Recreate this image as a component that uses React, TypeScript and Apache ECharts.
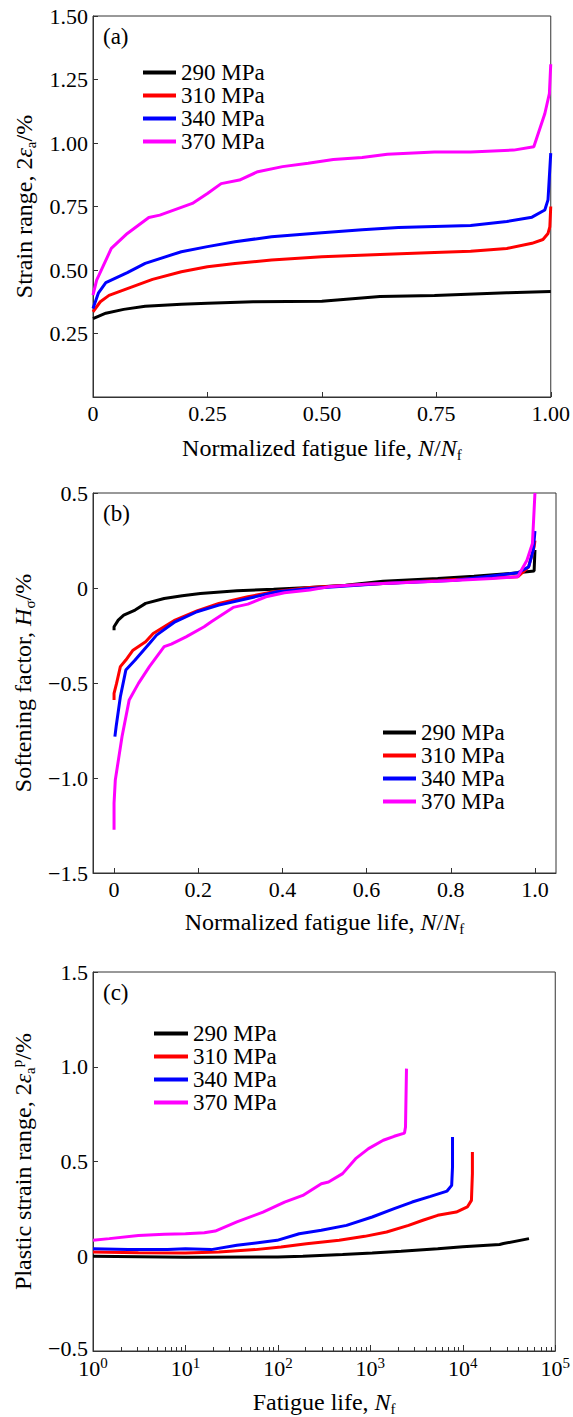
import React, { useEffect, useRef } from "react";
import * as echarts from "echarts";

const FONT = "Liberation Serif";
const seriesNames = ["290 MPa", "310 MPa", "340 MPa", "370 MPa"];
const seriesColors = ["#000000", "#ff0000", "#0000ff", "#ff00ff"];

// Panel (a): strain range vs normalized fatigue life
const a290 = [[0, 0.309], [0.028, 0.33], [0.067, 0.345], [0.114, 0.357], [0.193, 0.365], [0.25, 0.369], [0.35, 0.375], [0.5, 0.377], [0.54, 0.383], [0.627, 0.396], [0.746, 0.4], [0.904, 0.41], [1.0, 0.415]];
const a310 = [[0, 0.335], [0.016, 0.375], [0.035, 0.4], [0.075, 0.427], [0.13, 0.463], [0.193, 0.493], [0.25, 0.513], [0.31, 0.526], [0.39, 0.539], [0.5, 0.552], [0.627, 0.561], [0.746, 0.569], [0.825, 0.574], [0.904, 0.585], [0.959, 0.605], [0.983, 0.62], [0.994, 0.644], [0.998, 0.67], [1.0, 0.75]];
const a340 = [[0, 0.348], [0.012, 0.41], [0.028, 0.45], [0.075, 0.49], [0.114, 0.526], [0.193, 0.572], [0.25, 0.592], [0.31, 0.611], [0.39, 0.631], [0.5, 0.647], [0.588, 0.658], [0.667, 0.667], [0.825, 0.675], [0.904, 0.691], [0.959, 0.708], [0.987, 0.736], [0.994, 0.776], [1.0, 0.96]];
const a370 = [[0, 0.401], [0.008, 0.46], [0.04, 0.585], [0.075, 0.644], [0.122, 0.707], [0.146, 0.716], [0.217, 0.762], [0.25, 0.801], [0.28, 0.84], [0.32, 0.854], [0.36, 0.887], [0.414, 0.907], [0.47, 0.92], [0.525, 0.935], [0.588, 0.943], [0.643, 0.956], [0.746, 0.965], [0.825, 0.965], [0.919, 0.972], [0.963, 0.985], [0.987, 1.115], [0.997, 1.195], [1.0, 1.31]];

// Panel (b): softening factor vs normalized fatigue life
const b290 = [[0, -0.222], [0, -0.204], [0.01, -0.169], [0.023, -0.143], [0.05, -0.116], [0.075, -0.081], [0.119, -0.055], [0.162, -0.041], [0.205, -0.029], [0.292, -0.015], [0.379, -0.006], [0.465, 0.003], [0.55, 0.015], [0.639, 0.035], [0.769, 0.05], [0.855, 0.062], [0.942, 0.076], [0.998, 0.09], [1.0, 0.2]];
const b310 = [[0, -0.589], [0, -0.554], [0.006, -0.502], [0.015, -0.414], [0.028, -0.379], [0.045, -0.327], [0.075, -0.283], [0.093, -0.239], [0.119, -0.204], [0.145, -0.169], [0.197, -0.12], [0.249, -0.081], [0.318, -0.046], [0.379, -0.02], [0.465, 0.003], [0.639, 0.024], [0.812, 0.045], [0.959, 0.059], [0.985, 0.111], [0.998, 0.216], [1.0, 0.25]];
const b340 = [[0.002, -0.782], [0.005, -0.729], [0.015, -0.572], [0.028, -0.432], [0.05, -0.379], [0.084, -0.292], [0.101, -0.248], [0.145, -0.178], [0.197, -0.125], [0.249, -0.09], [0.318, -0.055], [0.387, -0.02], [0.465, -0.003], [0.639, 0.024], [0.812, 0.041], [0.959, 0.08], [0.985, 0.111], [0.996, 0.199], [1.0, 0.3]];
const b370 = [[0, -1.272], [0, -1.132], [0.003, -1.01], [0.019, -0.782], [0.036, -0.589], [0.058, -0.502], [0.084, -0.414], [0.119, -0.309], [0.136, -0.295], [0.171, -0.257], [0.214, -0.204], [0.231, -0.178], [0.283, -0.102], [0.318, -0.085], [0.361, -0.046], [0.405, -0.025], [0.465, -0.011], [0.509, 0.006], [0.595, 0.02], [0.769, 0.036], [0.899, 0.05], [0.959, 0.059], [0.981, 0.146], [0.994, 0.234], [1.0, 0.5]];

// Panel (c): plastic strain range vs fatigue life (cycles)
const c290 = [[1, 0], [10, -0.005], [100, -0.004], [186, 0.0], [501, 0.009], [1047, 0.017], [2150, 0.026], [5360, 0.039], [10000, 0.05], [25000, 0.062], [27500, 0.067], [52000, 0.093]];
const c310 = [[1, 0.022], [3.1, 0.019], [10, 0.017], [23, 0.022], [57, 0.035], [108, 0.049], [204, 0.066], [460, 0.084], [870, 0.105], [1500, 0.128], [2590, 0.163], [3700, 0.19], [5350, 0.216], [8500, 0.233], [11200, 0.26], [12400, 0.295], [12700, 0.436], [12700, 0.55]];
const c340 = [[1, 0.04], [2.4, 0.035], [6.4, 0.035], [10, 0.04], [19, 0.035], [36, 0.058], [98, 0.084], [170, 0.119], [295, 0.137], [552, 0.163], [1047, 0.207], [1810, 0.251], [2830, 0.286], [4470, 0.316], [6760, 0.344], [7580, 0.374], [7740, 0.471], [7740, 0.629]];
const c370 = [[1, 0.084], [1.5, 0.093], [3.1, 0.11], [5.9, 0.116], [10, 0.119], [16, 0.124], [21, 0.133], [36, 0.181], [69, 0.233], [118, 0.286], [186, 0.321], [295, 0.383], [353, 0.392], [501, 0.436], [693, 0.515], [955, 0.568], [1380, 0.612], [1810, 0.633], [2340, 0.65], [2400, 0.682], [2460, 0.99]];

const bTicks = [0, 0.2, 0.4, 0.6, 0.8, 1.0];
const cMinorTicks: number[] = [];
[1, 10, 100, 1000, 10000].forEach((d) => {
  for (let k = 2; k <= 9; k++) cMinorTicks.push(d * k);
});

const panels = [
  [a290, a310, a340, a370],
  [b290, b310, b340, b370],
  [c290, c310, c340, c370],
];

const AXIS_COLOR = "#333";
const txt = { fontFamily: FONT, color: "#000" };
const nameRich = {
  n: { ...txt, fontSize: 24, lineHeight: 28 },
  i: { ...txt, fontSize: 24, lineHeight: 28, fontStyle: "italic" },
  s: { ...txt, fontSize: 15, lineHeight: 15, verticalAlign: "bottom" },
  p: { ...txt, fontSize: 15, lineHeight: 15, verticalAlign: "top" },
};

const minus = (v: number, d: number) =>
  v === 0 ? "0" : v < 0 ? "\u2212" + Math.abs(v).toFixed(d) : v.toFixed(d);

function baseAxis(extra: any) {
  return {
    axisLine: { show: true, onZero: false, lineStyle: { color: AXIS_COLOR, width: 1 } },
    axisTick: { show: true, inside: true, length: 5, lineStyle: { color: AXIS_COLOR } },
    splitLine: { show: false },
    nameLocation: "middle",
    nameTextStyle: { rich: nameRich, ...txt, fontSize: 24 },
    ...extra,
  };
}

export default function App() {
  const ref = useRef<HTMLDivElement>(null);
  useEffect(() => {
    if (!ref.current) return;
    const chart = echarts.init(ref.current, undefined, { renderer: "svg" });
    const labelStyle = { ...txt, fontSize: 22, margin: 5 };
    const grids = [
      { left: 93, top: 16, width: 463, height: 381 },
      { left: 93, top: 493, width: 463, height: 380 },
      { left: 93, top: 972, width: 463, height: 379 },
    ].map((g) => ({ ...g, show: true, borderColor: AXIS_COLOR, borderWidth: 1, backgroundColor: "transparent" }));

    const xAxis = [
      baseAxis({
        gridIndex: 0, type: "value", min: 0, max: 1, interval: 0.25,
        name: "{n|Normalized fatigue life, }{i|N}{n|/}{i|N}{s|f}", nameGap: 37,
        axisLabel: { ...labelStyle, formatter: (v: number) => (v === 0 ? "0" : v.toFixed(2)) },
      }),
      baseAxis({
        gridIndex: 1, type: "value", min: -0.05, max: 1.05,
        name: "{n|Normalized fatigue life, }{i|N}{n|/}{i|N}{s|f}", nameGap: 35,
        axisLabel: { ...labelStyle, customValues: bTicks, formatter: (v: number) => (v === 0 ? "0" : v.toFixed(1)) },
        axisTick: { show: true, inside: true, length: 5, customValues: bTicks, lineStyle: { color: AXIS_COLOR } },
      }),
      baseAxis({
        gridIndex: 2, type: "log", logBase: 10, min: 1, max: 100000,
        name: "{n|Fatigue life, }{i|N}{s|f}", nameGap: 37,
        axisTick: { show: true, inside: true, length: 6, lineStyle: { color: AXIS_COLOR } },
        axisLabel: {
          ...labelStyle, margin: 4,
          formatter: (v: number) => `{b|10}{p|${Math.round(Math.log10(v))}}`,
          rich: {
            b: { ...txt, fontSize: 22, lineHeight: 26 },
            p: { ...txt, fontSize: 15, lineHeight: 15, verticalAlign: "top" },
          },
        },
      }),
      {
        gridIndex: 2, type: "log", logBase: 10, min: 1, max: 100000, position: "bottom",
        axisLine: { show: false, onZero: false },
        axisLabel: { show: false },
        splitLine: { show: false },
        axisTick: { show: true, inside: true, length: 4, customValues: cMinorTicks, lineStyle: { color: AXIS_COLOR } },
      },
    ];

    const yAxis = [
      baseAxis({
        gridIndex: 0, type: "value", min: 0, max: 1.5, interval: 0.25,
        name: "{n|Strain range, 2}{i|ε}{s|a}{n|/%}", nameGap: 55,
        axisLabel: { ...labelStyle, formatter: (v: number) => (v === 0 ? "" : v.toFixed(2)) },
      }),
      baseAxis({
        gridIndex: 1, type: "value", min: -1.5, max: 0.5, interval: 0.5,
        name: "{n|Softening factor, }{i|H}{s|σ}{n|/%}", nameGap: 55,
        axisLabel: { ...labelStyle, formatter: (v: number) => minus(v, 1) },
      }),
      baseAxis({
        gridIndex: 2, type: "value", min: -0.5, max: 1.5, interval: 0.5,
        name: "{n|Plastic strain range, 2}{i|ε}{s|a}{p|p}{n|/%}", nameGap: 53,
        axisLabel: {
          ...labelStyle,
          formatter: (v: number) => (v === -0.5 ? "{lo|" + minus(v, 1) + "}" : minus(v, 1)),
          rich: { lo: { ...txt, fontSize: 22, padding: [0, 0, 6, 0] } },
        },
      }),
    ];

    const series: any[] = [];
    panels.forEach((panel, pi) => {
      panel.forEach((data, si) => {
        series.push({
          type: "line",
          name: seriesNames[si],
          xAxisIndex: pi,
          yAxisIndex: pi,
          data,
          showSymbol: false,
          symbol: "none",
          clip: true,
          lineStyle: { color: seriesColors[si], width: 3 },
          itemStyle: { color: seriesColors[si] },
          z: 2 + si,
        });
      });
    });

    const legendBase = {
      orient: "vertical",
      data: seriesNames,
      icon: "rect",
      itemHeight: 4,
      itemGap: 0,
      selectedMode: false,
      textStyle: { ...txt, fontSize: 23, lineHeight: 23 },
    };

    chart.setOption({
      animation: false,
      backgroundColor: "#ffffff",
      textStyle: { fontFamily: FONT },
      grid: grids,
      xAxis,
      yAxis,
      series,
      legend: [
        { ...legendBase, left: 138, top: 56, itemWidth: 33 },
        { ...legendBase, left: 378, top: 716, itemWidth: 33 },
        { ...legendBase, left: 149, top: 1017, itemWidth: 34 },
      ],
      graphic: [
        { type: "text", style: { text: "(a)", x: 103, y: 36, fontSize: 23, fontFamily: FONT, fill: "#000", verticalAlign: "middle" } },
        { type: "text", style: { text: "(b)", x: 103, y: 513, fontSize: 23, fontFamily: FONT, fill: "#000", verticalAlign: "middle" } },
        { type: "text", style: { text: "(c)", x: 103, y: 992, fontSize: 23, fontFamily: FONT, fill: "#000", verticalAlign: "middle" } },
      ],
    });
    return () => chart.dispose();
  }, []);
  return (
    <div
      ref={ref}
      style={{ position: "absolute", left: 0, top: 0, width: 573, height: 1417, background: "#fff" }}
    />
  );
}
